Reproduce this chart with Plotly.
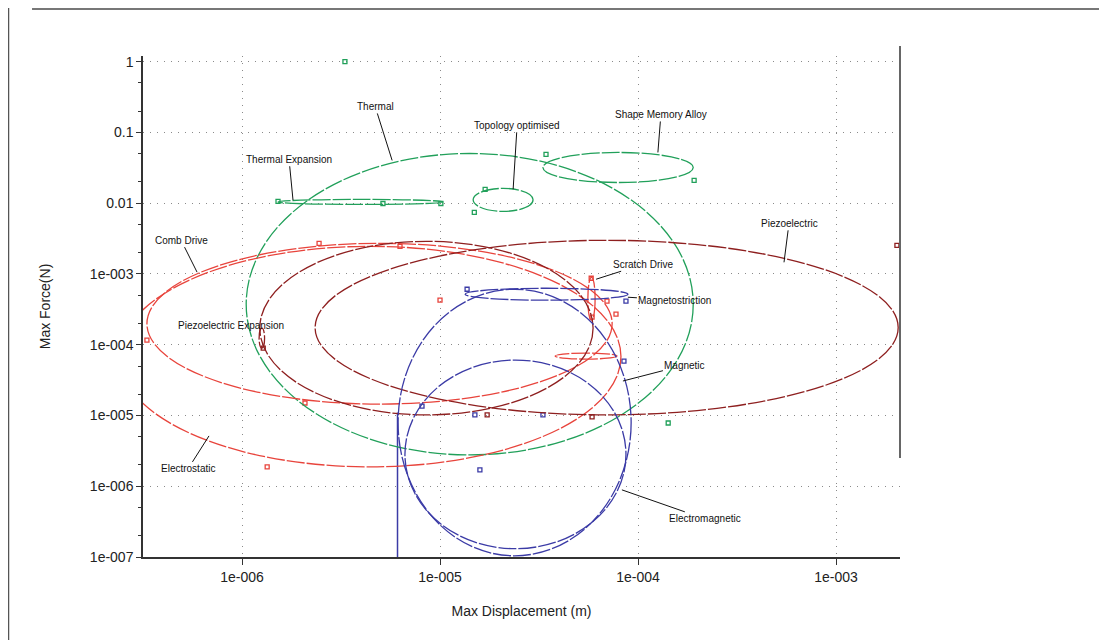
import numpy as np
import plotly.graph_objects as go

# ---------------- data ----------------
# Each actuator class is drawn as an ellipse bounded by its displacement / force ranges
regions = ["Thermal", "Thermal Expansion", "Topology optimised", "Shape Memory Alloy",
           "Comb Drive", "Electrostatic", "Scratch Drive", "Electrostatic relay",
           "Piezoelectric", "Piezoelectric bimorph", "Piezoelectric Expansion",
           "Magnetostriction", "Magnetic", "Electromagnetic"]
family = ["thermal", "thermal", "thermal", "thermal",
          "electrostatic", "electrostatic", "electrostatic", "electrostatic",
          "piezo", "piezo", "piezo",
          "magnetic", "magnetic", "magnetic"]
disp_min = [1.05e-6, 1.52e-6, 1.47e-5, 3.31e-5, 3.31e-7, 2.4e-7, 5.58e-5, 3.81e-5,
            2.34e-6, 1.23e-6, 1.22e-6, 1.34e-5, 6.65e-6, 6.14e-6]
disp_max = [1.90e-4, 1.035e-5, 2.95e-5, 1.90e-4, 7.40e-5, 8.2e-5, 6.07e-5, 7.83e-5,
            2.06e-3, 5.93e-5, 1.30e-6, 8.89e-5, 8.69e-5, 9.23e-5]
force_min = [2.77e-6, 9.6e-3, 7.66e-3, 1.96e-2, 1.45e-5, 1.88e-6, 2.22e-4, 6.27e-5,
             1.02e-5, 1.02e-5, 8.95e-5, 4.26e-4, 1.31e-7, 1.04e-7]
force_max = [5.04e-2, 1.13e-2, 1.62e-2, 5.21e-2, 2.71e-3, 2.46e-3, 8.98e-4, 7.62e-5,
             2.99e-3, 2.89e-3, 1.71e-4, 6.28e-4, 6.07e-5, 6.08e-4]

# linear (line-shaped) region
line_disp = [6.1e-6, 6.1e-6]
line_force = [1.1e-5, 1.0e-7]

# sample points plotted on the regions
pts_family = ["thermal"] * 9 + ["electrostatic"] * 10 + ["piezo"] * 4 + ["magnetic"] * 7
pts_disp = [3.31e-6, 1.42e-4, 1.52e-6, 5.15e-6, 1.01e-5, 1.69e-5, 1.49e-5, 3.43e-5, 1.92e-4,
            2.45e-6, 3.31e-7, 1.34e-6, 1.0e-5, 6.97e-5, 7.74e-5, 2.08e-6, 5.80e-5, 5.86e-5, 6.28e-6,
            1.28e-6, 2.03e-3, 5.86e-5, 1.73e-5,
            1.37e-5, 8.69e-5, 8.49e-5, 8.11e-6, 1.50e-5, 3.31e-5, 1.59e-5]
pts_force = [1.0, 7.83e-6, 1.06e-2, 9.9e-3, 9.9e-3, 1.57e-2, 7.4e-3, 4.88e-2, 2.10e-2,
             2.71e-3, 1.16e-4, 1.88e-6, 4.26e-4, 4.12e-4, 2.70e-4, 1.50e-5, 8.7e-4, 2.45e-4, 2.46e-3,
             8.95e-5, 2.54e-3, 9.53e-6, 1.02e-5,
             6.08e-4, 4.12e-4, 5.87e-5, 1.36e-5, 1.02e-5, 1.02e-5, 1.70e-6]

# labels with leader lines
label_text = ["Thermal", "Topology optimised", "Shape Memory Alloy", "Thermal Expansion",
              "Comb Drive", "Piezoelectric", "Scratch Drive", "Magnetostriction",
              "Piezoelectric Expansion", "Magnetic", "Electrostatic", "Electromagnetic"]
label_disp = [5.73e-6, 2.34e-5, 1.26e-4, 1.81e-6, 5.93e-7, 5.46e-4, 6.14e-5, 8.89e-5,
              1.26e-6, 8.39e-5, 6.81e-7, 8.29e-5]
label_force = [4.02e-2, 1.57e-2, 5.21e-2, 1.10e-2, 1.06e-3, 1.46e-3, 8.42e-4, 4.69e-4,
               1.56e-4, 3.07e-5, 5.14e-6, 8.89e-7]
label_dx = [-17, 4, 3, -4, -16, 5, 47, 47, -31, 62, -21, 83]
label_dy = [-54, -64, -38, -41, -32, -39, -15, 3, -6, -16, 33, 29]

x_tickvals = [1e-6, 1e-5, 1e-4, 1e-3]
x_ticktext = ["1e-006", "1e-005", "1e-004", "1e-003"]
y_tickvals = [1e-7, 1e-6, 1e-5, 1e-4, 1e-3, 1e-2, 1e-1, 1]
y_ticktext = ["1e-007", "1e-006", "1e-005", "1e-004", "1e-003", "0.01", "0.1", "1"]

# ---------------- style ----------------
colors = {"thermal": "#21a05a", "electrostatic": "#e8443c",
          "piezo": "#8e1f1f", "magnetic": "#3b3ba6"}
FONT = "Liberation Sans, Arial, Helvetica, sans-serif"

fig = go.Figure()

for fam in ["thermal", "electrostatic", "piezo", "magnetic"]:
    xs = [d for d, f in zip(pts_disp, pts_family) if f == fam]
    ys = [v for v, f in zip(pts_force, pts_family) if f == fam]
    fig.add_trace(go.Scatter(x=xs, y=ys, mode="markers", name=fam, showlegend=False,
                             marker=dict(symbol="square-open", size=4, color=colors[fam],
                                         line=dict(width=1.3, color=colors[fam]))))

fig.add_trace(go.Scatter(x=line_disp, y=line_force, mode="lines", showlegend=False,
                         line=dict(color=colors["magnetic"], width=1.5)))

shapes = []
for i in range(len(regions)):
    shapes.append(dict(type="circle", xref="x", yref="y",
                       x0=disp_min[i], x1=disp_max[i], y0=force_min[i], y1=force_max[i],
                       line=dict(color=colors[family[i]], width=1.3, dash="18px,2px")))

# page frame decorations
shapes.append(dict(type="line", xref="paper", yref="paper", x0=-0.1466, x1=1.3, y0=1.0938, y1=1.0938,
                   line=dict(color="#777777", width=2)))
shapes.append(dict(type="line", xref="paper", yref="paper", x0=-0.178, x1=-0.178, y0=1.12, y1=-0.2,
                   line=dict(color="#555555", width=2)))
shapes.append(dict(type="line", xref="paper", yref="paper", x0=1.0, x1=1.0, y0=1.02, y1=0.1976,
                   line=dict(color="#666666", width=2)))

annotations = []
for t, dx_, fx, ax_, ay_ in zip(label_text, label_disp, label_force, label_dx, label_dy):
    annotations.append(dict(x=np.log10(dx_), y=np.log10(fx), xref="x", yref="y",
                            text=t, showarrow=True, arrowhead=0, arrowwidth=1,
                            arrowcolor="#111111", ax=ax_, ay=ay_, standoff=0,
                            font=dict(family=FONT, size=10, color="#111111")))

fig.update_layout(
    width=1107, height=640, autosize=False,
    margin=dict(l=135, r=215, t=48, b=91),
    paper_bgcolor="white", plot_bgcolor="white",
    font=dict(family=FONT, size=14, color="#222222"),
    shapes=shapes, annotations=annotations,
    xaxis=dict(type="log", range=[-6.5, -2.677], tickmode="array",
               tickvals=x_tickvals, ticktext=x_ticktext,
               showline=True, linecolor="#333333", linewidth=1.5,
               ticks="outside", ticklen=6, tickcolor="#333333",
               showgrid=True, gridcolor="#8a8a8a", griddash="1px,6px", gridwidth=1,
               zeroline=False,
               title=dict(text="Max Displacement (m)", standoff=23,
                          font=dict(family=FONT, size=14, color="#222222")),
               tickfont=dict(family=FONT, size=14, color="#222222")),
    yaxis=dict(type="log", range=[-7, 0.08], tickmode="array",
               tickvals=y_tickvals, ticktext=y_ticktext,
               showline=True, linecolor="#333333", linewidth=1.5,
               ticks="outside", ticklen=5, tickcolor="#333333",
               minor=dict(ticks="outside", ticklen=3, tickcolor="#333333", showgrid=False),
               showgrid=True, gridcolor="#8a8a8a", griddash="1px,6px", gridwidth=1,
               zeroline=False,
               title=dict(text="Max Force(N)", standoff=36,
                          font=dict(family=FONT, size=14, color="#222222")),
               tickfont=dict(family=FONT, size=14, color="#222222")),
)

fig.write_html("out.html")
